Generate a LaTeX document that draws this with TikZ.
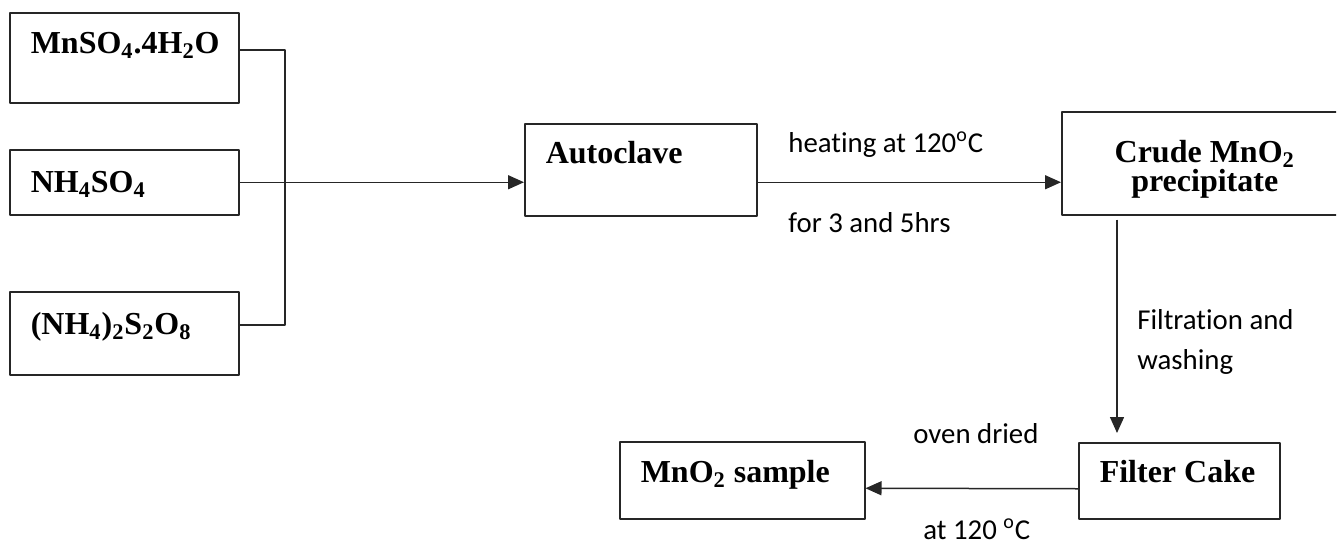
\documentclass[tikz,border=0pt]{standalone}
\usepackage{fontspec}
\setmainfont{Liberation Serif}
\newfontfamily\calibri[Ligatures=NoCommon]{Carlito}
\usetikzlibrary{arrows.meta}
\begin{document}
\begin{tikzpicture}[x=0.5pt, y=-0.5pt, line join=round, >={Triangle[length=8pt,width=7pt]},
	box/.style={draw=black!85, line width=0.75pt, anchor=north west, inner ysep=0pt, inner xsep=10.5pt, align=flush left, font=\fontsize{16}{14.5}\selectfont\bfseries},
	note/.style={anchor=base west, inner sep=0pt, font=\fontsize{14.4}{20}\selectfont\calibri},
	wire/.style={draw=black!85, line width=0.75pt},
	flow/.style={wire, ->}]
	\useasboundingbox (0,0) rectangle (1338,546);
	\clip (-2,-2) rectangle (1336,548);
	\path
	(285,50) coordinate (J_1)
	(285,325) coordinate (J_2)
	(1117,0) coordinate (D)
	;
	\node[box, text width=93.5pt, text height=20.5pt, text depth=24.5pt] (mnso) at (9,12) {MnSO\textsubscript{4}.4H\textsubscript{2}O};
	\node[box, text width=93.5pt, text height=21.5pt, text depth=11pt] (nhso) at (9,149) {NH\textsubscript{4}SO\textsubscript{4}};
	\node[box, text width=93.5pt, text height=21.5pt, text depth=20pt] (pers) at (9,291) {(NH\textsubscript{4})\textsubscript{2}S\textsubscript{2}O\textsubscript{8}};
	\node[box, text width=95pt, text height=20pt, text depth=26pt] (auto) at (524,123) {Autoclave};
	\node[box, align=flush center, text width=122pt, text height=25.5pt, text depth=26pt] (crude) at (1061,111) {Crude MnO\textsubscript{2}\\precipitate};
	\node[box, text width=79.5pt, text height=20pt, text depth=18pt] (filter) at (1078,442) {Filter~Cake};
	\node[box, text width=101.5pt, text height=20.5pt, text depth=18pt] (sample) at (619,441) {MnO\textsubscript{2}~sample};
	\node[note] (heat) at (788,152) {heating at 120\textsuperscript{o}C};
	\node[note] (hours) at (788,232) {for 3 and 5hrs};
	\node[note] (filt) at (1137,329) {Filtration and};
	\node[note] (wash) at (1137,369) {washing};
	\node[note] (oven) at (913,443) {oven dried};
	\node[note] (temp) at (923,539) {at 120 \textsuperscript{o}C};
	\draw[wire] (mnso.east |- J_1) -- (J_1) -- (J_2) -- (pers.east |- J_2);
	\draw[flow] (nhso.east) -- (auto.west |- nhso.east);
	\draw[flow] (auto.east |- nhso.east) -- (crude.west |- nhso.east);
	\draw[flow] ([yshift=-2pt]crude.south -| D) -- ([yshift=4.5pt]filter.north -| D);
	\draw[flow] ([yshift=-4pt]filter.west) -- ([yshift=-4pt]sample.east);
\end{tikzpicture}
\end{document}
